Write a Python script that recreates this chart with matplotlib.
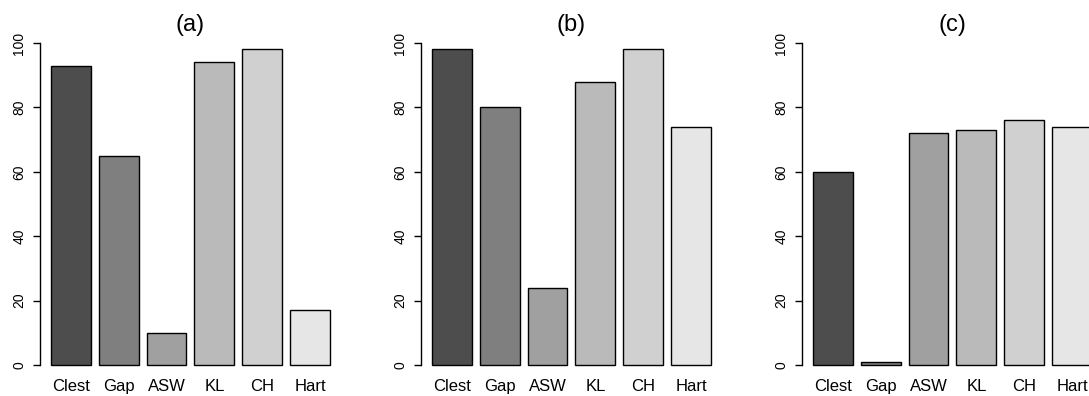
import matplotlib
matplotlib.use("Agg")
import matplotlib.pyplot as plt

plt.rcParams['font.family'] = ['Liberation Sans', 'DejaVu Sans']

# data
methods = ["Clest", "Gap", "ASW", "KL", "CH", "Hart"]
panel_titles = ["(a)", "(b)", "(c)"]
scores_a = [93, 65, 10, 94, 98, 17]
scores_b = [98, 80, 24, 88, 98, 74]
scores_c = [60, 1, 72, 73, 76, 74]
yticks = [0, 20, 40, 60, 80, 100]

# R gray.colors(6)
bar_colors = ["#4D4D4D", "#7F7F7F", "#A0A0A0", "#BABABA", "#D0D0D0", "#E6E6E6"]

FIG_W, FIG_H = 1089, 396
PANEL_PITCH = 381.0
PLOT_LEFT = 39.8
PLOT_WIDTH = 301.3
PLOT_TOP = 30.1
PLOT_BOTTOM = 377.9

fig = plt.figure(figsize=(FIG_W / 100., FIG_H / 100.), dpi=100)

# R barplot positions: width 1, space 0.2
centers = [0.7 + 1.2 * i for i in range(len(methods))]

for i, (title, scores) in enumerate(zip(panel_titles, [scores_a, scores_b, scores_c])):
    left = (PLOT_LEFT + PANEL_PITCH * i) / FIG_W
    bottom = (FIG_H - PLOT_BOTTOM) / FIG_H
    ax = fig.add_axes([left, bottom, PLOT_WIDTH / FIG_W,
                       (PLOT_BOTTOM - PLOT_TOP) / FIG_H])
    ax.bar(centers, scores, width=1.0, color=bar_colors,
           edgecolor="black", linewidth=1.0)
    ax.set_xlim(-0.08, 7.48)
    ax.set_ylim(-4, 104)

    for side in ["top", "right", "bottom"]:
        ax.spines[side].set_visible(False)
    ax.spines["left"].set_bounds(0, 100)
    ax.spines["left"].set_linewidth(1.0)

    ax.set_yticks(yticks)
    ax.set_yticklabels([str(t) for t in yticks], rotation=90, va="center",
                       fontsize=10)
    ax.tick_params(axis="y", direction="out", length=4.7, width=1.0, pad=5)

    ax.set_xticks(centers)
    ax.set_xticklabels(methods, fontsize=12)
    ax.tick_params(axis="x", length=0, pad=1)

    ax.text(0.5, 1.014, title, ha="center", va="center", fontsize=17,
            transform=ax.transAxes)

fig.savefig("out.png", dpi=100)
